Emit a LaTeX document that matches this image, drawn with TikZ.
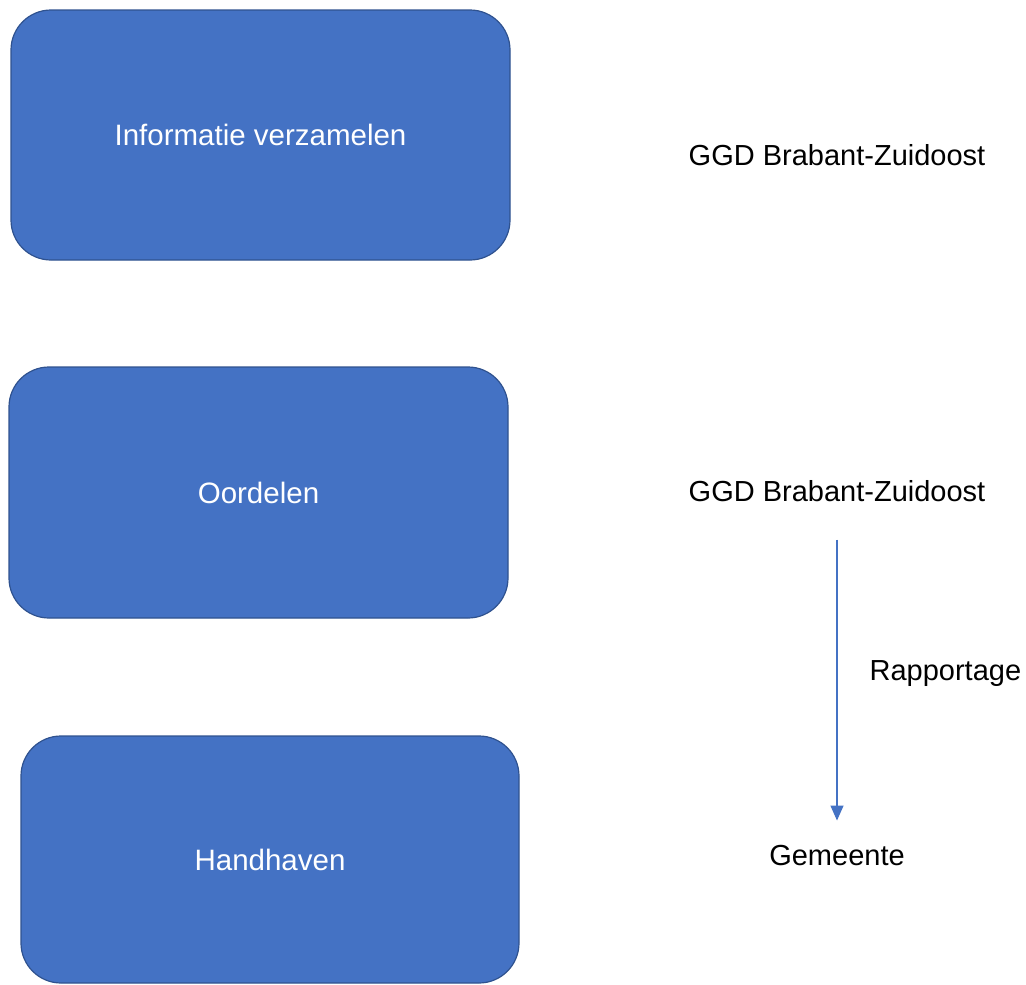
\documentclass[tikz,border=0pt]{standalone}
\usepackage{fontspec}
\setmainfont{Liberation Sans}
\usetikzlibrary{arrows.meta}
\usetikzlibrary{positioning}

\definecolor{boxblue}{HTML}{4472C4}
\definecolor{boxedge}{HTML}{2F528F}

\begin{document}
\begin{tikzpicture}[x=1pt, y=-1pt,
    stap/.style={draw=boxedge, line width=1.2pt, fill=boxblue, rounded corners=40pt,
        text=white, font=\fontsize{29.5}{34}\selectfont, inner sep=0pt},
    wie/.style={font=\fontsize{29}{34}\selectfont, inner sep=0pt},
    pijl/.style={-{Triangle[width=13pt,length=15pt]}, draw=boxblue, line width=1.3pt}]
    \useasboundingbox (0,0) rectangle (1026,985);
    \node[stap, minimum width=499pt, minimum height=250pt] (info) at (260.5,135) {Informatie verzamelen};
    \node[stap, minimum width=499pt, minimum height=251pt] (oordeel) at (258.5,492.5) {Oordelen};
    \node[stap, minimum width=498pt, minimum height=247pt] (handhaaf) at (270,859.5) {Handhaven};
    \node[wie] (ggd1) at (837,155) {GGD Brabant-Zuidoost};
    \node[wie] (ggd2) at (837,491) {GGD Brabant-Zuidoost};
    \node[wie] (gem) at (837,856) {Gemeente};
    \draw[pijl, fill=boxblue, shorten <=38pt, shorten >=25pt] (ggd2.south) -- (gem.north)
        node[wie, midway, right=32pt] (rapp) {Rapportage};
\end{tikzpicture}
\end{document}
